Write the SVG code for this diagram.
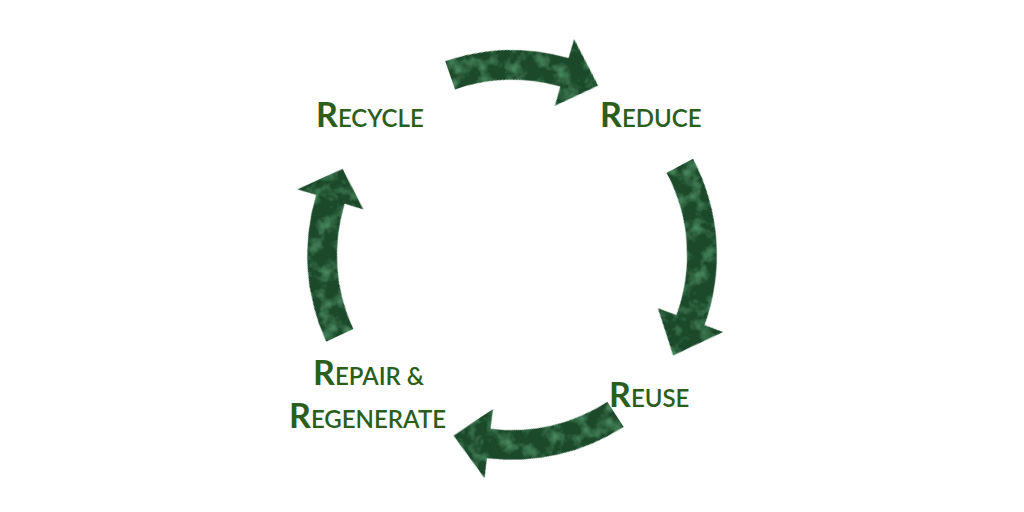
<svg xmlns="http://www.w3.org/2000/svg" width="1024" height="512" viewBox="0 0 1024 512">
<style>
.lbl{font-family:Lato,"Open Sans",sans-serif;font-size:24px;fill:#2b5e1c;font-weight:600}
.big{font-size:34px;font-weight:700}
.arr{fill:#1b4a2b;filter:url(#marble)}
</style>
<defs>
<filter id="marble" x="0" y="0" width="100%" height="100%">
<feTurbulence type="fractalNoise" baseFrequency="0.07" numOctaves="3" seed="4" result="n"/>
<feColorMatrix in="n" type="matrix" values="0 0 0 0 0  0 0 0 0 0  0 0 0 0 0  2.5 0 0 0 -1.15" result="c"/>
<feFlood flood-color="#4a8a60" result="f"/>
<feComposite in="f" in2="c" operator="in" result="light"/>
<feMerge result="m"><feMergeNode in="SourceGraphic"/><feMergeNode in="light"/></feMerge>
<feComposite in="m" in2="SourceGraphic" operator="in"/>
</filter>
</defs>
<g id="connectors" transform="translate(512,255)">
<path class="arr" transform="rotate(-19)" d="M0,-205 A205,205 0 0 1 117.6,-167.9 L129.1,-184.3 L136.7,-132 L88.9,-127 L100.4,-143.4 A175,175 0 0 0 0,-175 Z"/>
<path class="arr" transform="rotate(62)" d="M0,-205 A205,205 0 0 1 152.3,-137.2 L167.2,-150.5 L164.5,-95 L115.2,-103.7 L130,-117.1 A175,175 0 0 0 0,-175 Z"/>
<path class="arr" transform="rotate(147)" d="M0,-205 A205,205 0 0 1 131.8,-157 L144.6,-172.4 L147.6,-119.6 L99.6,-118.7 L112.5,-134.1 A175,175 0 0 0 0,-175 Z"/>
<path class="arr" transform="rotate(245)" d="M0,-205 A205,205 0 0 1 137.2,-152.3 L150.5,-167.2 L149.7,-117 L103.7,-115.2 L117.1,-130 A175,175 0 0 0 0,-175 Z"/>
</g>
<g id="recycle"><text class="lbl" x="316" y="127"><tspan class="big">R</tspan>ECYCLE</text></g>
<g id="reduce"><text class="lbl" x="600" y="127"><tspan class="big">R</tspan>EDUCE</text></g>
<g id="reuse"><text class="lbl" x="609" y="407"><tspan class="big">R</tspan>EUSE</text></g>
<g id="repair"><text class="lbl" x="313" y="385"><tspan class="big">R</tspan>EPAIR &amp;</text><text class="lbl" x="289" y="428"><tspan class="big">R</tspan>EGENERATE</text></g>
</svg>
